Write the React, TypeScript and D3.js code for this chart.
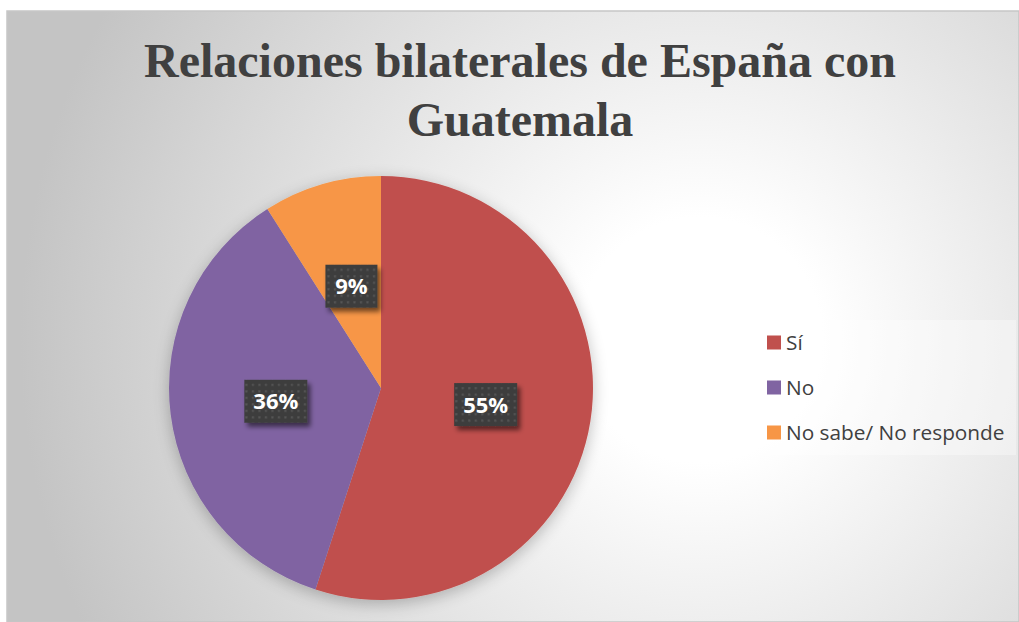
import React from "react";
import * as d3 from "d3";

const categories = ["Sí", "No", "No sabe/ No responde"];
const values = [55, 36, 9];
const colors = ["#C0504D", "#8064A2", "#F79646"];
const titleLines = ["Relaciones bilaterales de España con", "Guatemala"];

const W = 1019;
const H = 622;

export default function App() {
  const cx = 381;
  const cy = 388;
  const r = 212;
  const pie = d3.pie<number>().sort(null).value((d) => d)(values);
  const arc = d3.arc<d3.PieArcDatum<number>>().innerRadius(0).outerRadius(r);
  const labelArc = d3.arc<d3.PieArcDatum<number>>().innerRadius(r * 0.5).outerRadius(r * 0.5);
  const legendY = d3.scaleBand<string>().domain(categories).range([320, 455]).paddingOuter(0);

  return (
    <svg
      width={W}
      height={H}
      style={{ position: "absolute", left: 0, top: 0 }}
      fontFamily="'Open Sans', sans-serif"
    >
      <defs>
        <radialGradient id="bg" gradientUnits="userSpaceOnUse" cx={700} cy={340} r={680}>
          <stop offset="0" stopColor="#ffffff" />
          <stop offset="0.18" stopColor="#ffffff" />
          <stop offset="1" stopColor="#c4c4c4" />
        </radialGradient>
        <filter id="pieShadow" x="-20%" y="-20%" width="140%" height="140%">
          <feGaussianBlur in="SourceAlpha" stdDeviation="8" />
          <feOffset dx="0" dy="4" result="b" />
          <feComponentTransfer>
            <feFuncA type="linear" slope="0.25" />
          </feComponentTransfer>
          <feMerge>
            <feMergeNode />
            <feMergeNode in="SourceGraphic" />
          </feMerge>
        </filter>
        <filter id="boxShadow" x="-30%" y="-30%" width="160%" height="160%">
          <feGaussianBlur in="SourceAlpha" stdDeviation="2.5" />
          <feOffset dx="3" dy="4" />
          <feComponentTransfer>
            <feFuncA type="linear" slope="0.55" />
          </feComponentTransfer>
          <feMerge>
            <feMergeNode />
            <feMergeNode in="SourceGraphic" />
          </feMerge>
        </filter>
        <pattern id="dots" width="6.5" height="6.5" patternUnits="userSpaceOnUse">
          <rect width="6.5" height="6.5" fill="#3c3c3c" />
          <rect x="2" y="2" width="2.2" height="2.2" fill="#555555" />
        </pattern>
      </defs>

      <rect x={7} y={11} width={W - 7} height={H - 11} fill="url(#bg)" stroke="#c6c6c6" strokeWidth={1.5} />

      <g fill="#404040" fontFamily="'Liberation Serif', 'Times New Roman', serif" fontWeight="bold" fontSize={48} textAnchor="middle">
        {titleLines.map((t, i) => (
          <text key={i} x={520} y={77 + i * 59}>
            {t}
          </text>
        ))}
      </g>

      <g transform={`translate(${cx},${cy})`} filter="url(#pieShadow)">
        {pie.map((d, i) => (
          <path key={i} d={arc(d) || ""} fill={colors[i]} />
        ))}
      </g>

      <g transform={`translate(${cx},${cy})`}>
        {pie.map((d, i) => {
          const [lx, ly] = labelArc.centroid(d);
          const label = `${values[i]}%`;
          const bw = label.length === 2 ? 52 : 63;
          const bh = 43;
          return (
            <g key={i} transform={`translate(${lx},${ly})`}>
              <rect x={-bw / 2} y={-bh / 2} width={bw} height={bh} fill="url(#dots)" filter="url(#boxShadow)" />
              <text
                x={0}
                y={8}
                fill="#ffffff"
                fontWeight="bold"
                fontSize={22}
                textAnchor="middle"
              >
                {label}
              </text>
            </g>
          );
        })}
      </g>

      <rect x={754} y={320} width={262} height={135} fill="#ffffff" fillOpacity={0.35} />
      {categories.map((c, i) => {
        const y = (legendY(c) || 0) + legendY.bandwidth() / 2;
        return (
          <g key={c}>
            <rect x={767} y={y - 7} width={14} height={14} fill={colors[i]} />
            <text x={786} y={y + 7.5} fill="#404040" fontSize={20.8}>
              {c}
            </text>
          </g>
        );
      })}
    </svg>
  );
}
